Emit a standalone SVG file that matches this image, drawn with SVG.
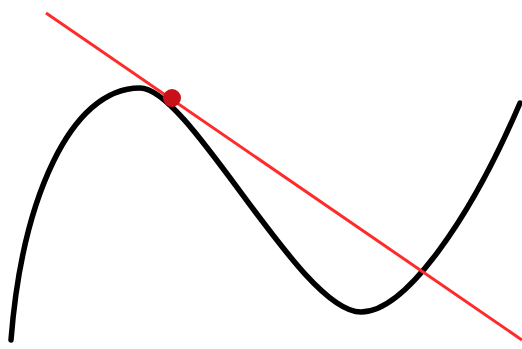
<svg xmlns="http://www.w3.org/2000/svg" width="522" height="349" viewBox="0 0 522 349">
<style>
.curve{fill:none;stroke:#000;stroke-width:5.5;stroke-linecap:round;stroke-linejoin:round}
.tangent{fill:none;stroke:#ff2b2b;stroke-width:3}
.point{fill:#c8101a}
</style>
<rect width="522" height="349" fill="#fff"/>
<path class="curve" d="M11,340 C22,200 70,88 140,88 C190,88 300,312 361,312 C405,312 470,220 520,103"/>
<line class="tangent" x1="46" y1="13" x2="522" y2="340"/>
<circle class="point" cx="172" cy="98" r="9"/>
</svg>
